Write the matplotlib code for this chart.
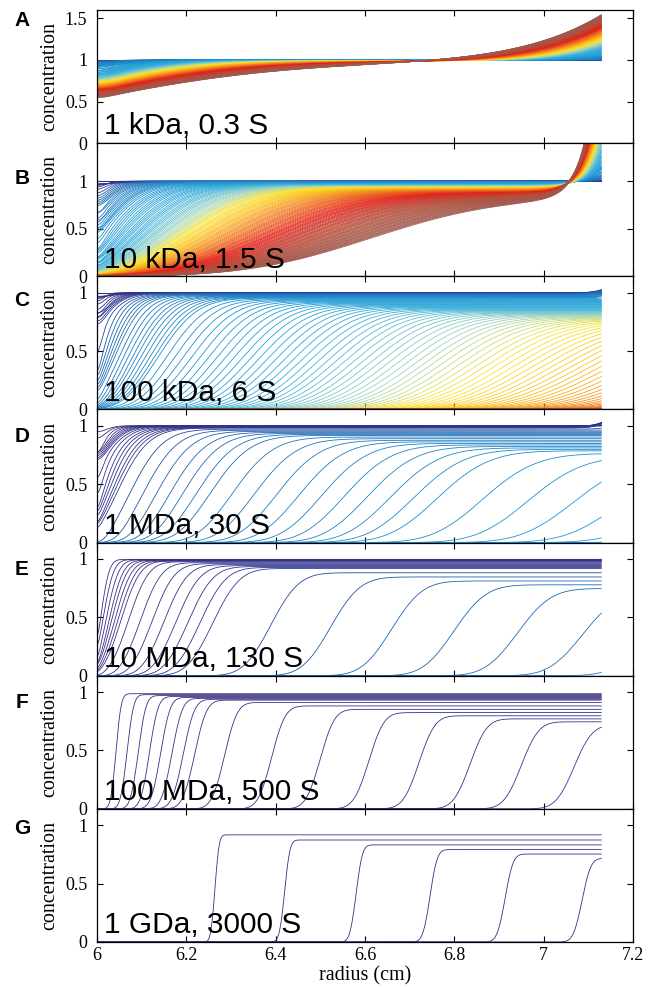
import numpy as np
import matplotlib
matplotlib.use("Agg")
import matplotlib.pyplot as plt
from matplotlib.colors import LinearSegmentedColormap

# panels (top to bottom)
panel_letters = ["A", "B", "C", "D", "E", "F", "G"]
panel_texts = ["1 kDa, 0.3 S", "10 kDa, 1.5 S", "100 kDa, 6 S", "1 MDa, 30 S",
               "10 MDa, 130 S", "100 MDa, 500 S", "1 GDa, 3000 S"]
sed_S = [0.3, 1.5, 6, 30, 130, 500, 3000]                             # svedberg
diff_cm2s = [1.45e-6, 5.5e-7, 4.0e-7, 4.5e-7, 2.2e-7, 8.3e-8, 5.0e-8]  # cm^2/s
y_top = [1.6, 1.4, 1.14, 1.14, 1.14, 1.14, 1.14]
y_ticks = [[0, 0.5, 1, 1.5]] + [[0, 0.5, 1]] * 6
x_ticks = [6, 6.2, 6.4, 6.6, 6.8, 7, 7.2]
x_ticklabels = ["6", "6.2", "6.4", "6.6", "6.8", "7", "7.2"]
letter_offset_px = [10, 35, 24, 27, 27, 27, 20]

# rotor speed sweep, one scan per interval
speed_rpm = [5000, 8000, 10100, 22000, 28000, 38700]
scans_per_speed = [8, 1, 7, 7, 10, 126]
first_scan_s = 525
scan_interval_s = 300

r_meniscus, r_bottom, r_last = 6.0, 7.2, 7.13

# colours: early scans purple/blue -> late scans red/brown
scan_colors = ["#3c2f7e", "#2e3590", "#1f62b0", "#1f7fc4", "#1e9bd7", "#36aedb", "#9ed4c0",
               "#f8e431", "#fbbf1a", "#f4861f", "#e2231a", "#b4503c", "#9e5a50"]
scan_color_pos = [0, 0.09, 0.11, 0.16, 0.24, 0.31, 0.39, 0.45, 0.51, 0.58, 0.71, 0.86, 1.0]
cmap = LinearSegmentedColormap.from_list("scan", list(zip(scan_color_pos, scan_colors)))

# Lamm equation on a log-radius grid: exact shift for sedimentation,
# exact (eigen) propagator for diffusion
n = 800
xe = np.linspace(np.log(r_meniscus), np.log(r_bottom), n + 1)
dx = xe[1] - xe[0]
r = np.exp(0.5 * (xe[:-1] + xe[1:]))
keep = r <= r_last

lap = np.diag(-2.0 * np.ones(n)) + np.diag(np.ones(n - 1), 1) + np.diag(np.ones(n - 1), -1)
lap[0, 0] = lap[-1, -1] = -1.0
lam, vec = np.linalg.eigh(lap / dx**2 / np.outer(r, r))
to_modes = vec.T * r
from_modes = vec / r[:, None]
dilute = np.exp(-2 * dx)


def diffuse(c, a):
    return from_modes @ (np.exp(a * lam) * (to_modes @ c))


def shift(c):
    out = np.zeros_like(c)
    out[1:] = c[:-1] * dilute
    out[-1] += c[-1]
    return out


omega2 = (np.repeat(speed_rpm, scans_per_speed) * 2 * np.pi / 60.0) ** 2
dt = np.full(len(omega2), float(scan_interval_s))
dt[0] = first_scan_s
n_scans = len(omega2)


def run(s_svedberg, d):
    s = s_svedberg * 1e-13
    tau = np.cumsum(s * omega2 * dt)
    eps = d / (s * omega2)
    c = np.ones(n)
    out = np.zeros((n_scans, keep.sum()))
    done, prev = 0, 0.0
    for k in range(n_scans):
        steps = int(tau[k] / dx) - done
        a = eps[k] * (tau[k] - prev)
        if steps == 0:
            c = diffuse(c, a)
        for _ in range(steps):
            c = diffuse(shift(c), a / steps)
        done += steps
        prev = tau[k]
        out[k] = c[keep]
        if out[k].max() < 1e-5:
            break
    return out


fig = plt.figure(figsize=(6.56, 9.88), dpi=100)
top_px, bot_px, W, H = 10, 942, 656, 988
h = (bot_px - top_px) / 7
serif = ["Liberation Serif", "DejaVu Serif"]

for i in range(7):
    y0 = top_px + i * h
    ax = fig.add_axes([97 / W, 1 - (y0 + h) / H, 536 / W, h / H])
    curves = run(sed_S[i], diff_cm2s[i])
    for k in range(n_scans):
        ax.plot(r[keep], curves[k], color=cmap(k / (n_scans - 1)), lw=0.6)
    ax.set_xlim(6, 7.2)
    ax.set_ylim(0, y_top[i])
    ax.set_xticks(x_ticks)
    ax.set_yticks(y_ticks[i])
    ax.set_yticklabels([f"{v:g}" for v in y_ticks[i]], family=serif, fontsize=13)
    if i == 6:
        ax.set_xticklabels(x_ticklabels, family=serif, fontsize=13)
        ax.set_xlabel("radius (cm)", family=serif, fontsize=14.5, labelpad=2)
    else:
        ax.set_xticklabels([])
    ax.set_ylabel("concentration", family=serif, fontsize=14.5, labelpad=4)
    ax.tick_params(direction="in", top=True, right=True, length=4, width=0.8)
    ax.tick_params(axis="y", pad=7)
    for sp in ax.spines.values():
        sp.set_linewidth(0.9)
    ax.text(0.013, 0.065, panel_texts[i], transform=ax.transAxes, fontsize=21.5,
            family=["Liberation Sans", "DejaVu Sans"])
    fig.text(22 / W, 1 - (y0 + letter_offset_px[i]) / H, panel_letters[i], fontsize=15,
             fontweight="bold", family=["Liberation Sans", "DejaVu Sans"],
             ha="center", va="center")

fig.savefig("out.png", dpi=100)
